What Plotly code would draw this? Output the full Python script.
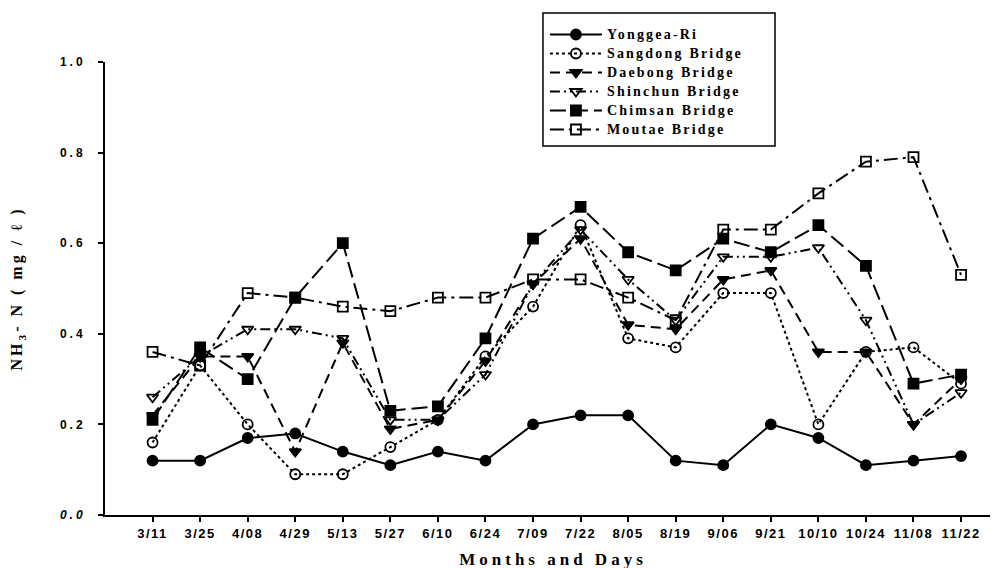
import plotly.graph_objects as go

dates = ["3/11", "3/25", "4/08", "4/29", "5/13", "5/27", "6/10", "6/24", "7/09",
         "7/22", "8/05", "8/19", "9/06", "9/21", "10/10", "10/24", "11/08", "11/22"]

yonggea = [0.12, 0.12, 0.17, 0.18, 0.14, 0.11, 0.14, 0.12, 0.20, 0.22, 0.22, 0.12, 0.11, 0.20, 0.17, 0.11, 0.12, 0.13]
sangdong = [0.16, 0.33, 0.20, 0.09, 0.09, 0.15, 0.21, 0.35, 0.46, 0.64, 0.39, 0.37, 0.49, 0.49, 0.20, 0.36, 0.37, 0.29]
daebong = [0.22, 0.35, 0.35, 0.14, 0.38, 0.19, 0.21, 0.34, 0.51, 0.61, 0.42, 0.41, 0.52, 0.54, 0.36, 0.36, 0.20, 0.30]
shinchun = [0.26, 0.35, 0.41, 0.41, 0.39, 0.21, 0.21, 0.31, 0.51, 0.63, 0.52, 0.43, 0.57, 0.57, 0.59, 0.43, 0.20, 0.27]
chimsan = [0.21, 0.37, 0.30, 0.48, 0.60, 0.23, 0.24, 0.39, 0.61, 0.68, 0.58, 0.54, 0.61, 0.58, 0.64, 0.55, 0.29, 0.31]
moutae = [0.36, 0.33, 0.49, 0.48, 0.46, 0.45, 0.48, 0.48, 0.52, 0.52, 0.48, 0.43, 0.63, 0.63, 0.71, 0.78, 0.79, 0.53]

y_ticks = [0, 0.2, 0.4, 0.6, 0.8, 1.0]
y_ticktext = ["<i>0.0</i>", "0.2", "0.4", "0.6", "0.8", "1.0"]

series = [
    ("Yonggea-Ri", yonggea, "solid", "circle"),
    ("Sangdong Bridge", sangdong, "dot", "circle-open"),
    ("Daebong Bridge", daebong, "10px,6px", "triangle-down"),
    ("Shinchun Bridge", shinchun, "10px,4px,2px,4px,2px,4px", "triangle-down-open"),
    ("Chimsan Bridge", chimsan, "16px,6px", "square"),
    ("Moutae Bridge", moutae, "14px,5px,3px,5px", "square-open"),
]

fig = go.Figure()
for name, vals, dash, sym in series:
    fig.add_trace(go.Scatter(
        x=list(range(len(dates))), y=vals, name=name, mode="lines+markers",
        line=dict(color="black", width=2, dash=dash),
        marker=dict(symbol=sym, size=10, color="black",
                    line=dict(color="black", width=1.8)),
    ))

# legend frame
fig.add_shape(type="rect", xref="paper", yref="paper",
              x0=0.4888, x1=0.7478, y0=0.8146, y1=1.108,
              line=dict(color="black", width=1.5), fillcolor="rgba(0,0,0,0)")

fig.update_layout(
    width=998, height=568,
    margin=dict(l=97, r=5, t=54, b=61),
    plot_bgcolor="white", paper_bgcolor="white",
    font=dict(family="Liberation Sans", color="black"),
    showlegend=True,
    legend=dict(
        x=0.491, y=1.0927, xanchor="left", yanchor="top",
        borderwidth=0, bgcolor="rgba(0,0,0,0)",
        font=dict(family="Liberation Serif", size=11, color="black", weight="bold"),
        itemwidth=52, tracegroupgap=0,
    ),
    xaxis=dict(
        tickmode="array", tickvals=list(range(len(dates))), ticktext=dates,
        range=[-1, 17.84], showgrid=False, zeroline=False,
        showline=True, linecolor="black", linewidth=2,
        ticks="outside", ticklen=5, tickwidth=1.5, tickcolor="black",
        ticklabelstandoff=0,
        tickfont=dict(family="Liberation Sans", size=13, color="black", weight="bold"),
        title=dict(text="Months and Days",
                   font=dict(family="Liberation Serif", size=17, color="black", weight="bold"),
                   standoff=14),
    ),
    yaxis=dict(
        range=[0, 1.0], tickvals=y_ticks, ticktext=y_ticktext,
        showgrid=False, zeroline=False,
        showline=True, linecolor="black", linewidth=2,
        ticks="outside", ticklen=5, tickwidth=1.5, tickcolor="black",
        ticklabelstandoff=10,
        tickfont=dict(family="Liberation Sans", size=12, color="black", weight="bold"),
        title=dict(text="NH<sub>3</sub>- N ( mg / ℓ )",
                   font=dict(family="Liberation Serif", size=16, color="black", weight="bold"),
                   standoff=42),
    ),
)

css = (
    ".legendtext{font-size:14px !important;letter-spacing:2.2px;}"
    ".legend .scrollbox{clip-path:none !important;}"
    ".legend g[clip-path]{clip-path:none !important;}"
    ".xtitle{letter-spacing:4px;}"
    ".ytitle{letter-spacing:3px;}"
    ".xtick text{letter-spacing:1.5px;}"
    ".ytick text{letter-spacing:3px;}"
)
post = ("var s=document.createElement('style');s.textContent='" + css +
        "';document.head.appendChild(s);")

fig.write_html("out.html", post_script=post)
